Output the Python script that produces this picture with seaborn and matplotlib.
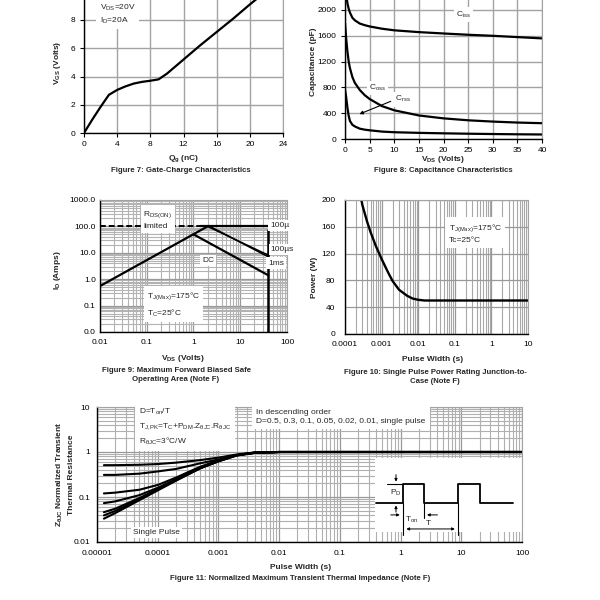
import matplotlib
matplotlib.use("Agg")
import matplotlib.pyplot as plt
from matplotlib.patches import Rectangle
import seaborn as sns

# Figure 7: gate charge
qg = [0, 1, 2, 3, 4, 5, 6, 7, 8, 9, 10, 12, 14, 16, 18, 20, 22]
vgs = [0, 0.95, 1.85, 2.7, 3.05, 3.3, 3.5, 3.62, 3.7, 3.8, 4.2, 5.2, 6.2, 7.15, 8.1, 9.1, 10.05]

# Figure 8: capacitance
vds_cap = [0, 0.25, 0.5, 0.75, 1, 1.5, 2, 3, 4, 5, 7.5, 10, 15, 20, 25, 30, 35, 40]
ciss = [2600, 2250, 2100, 2020, 1960, 1880, 1840, 1790, 1765, 1745, 1710, 1685, 1657, 1636, 1616, 1600, 1580, 1560]
coss = [1800, 1550, 1350, 1200, 1100, 960, 870, 760, 680, 620, 510, 445, 365, 320, 290, 270, 255, 245]
crss = [770, 640, 480, 360, 280, 220, 195, 160, 145, 135, 115, 105, 95, 88, 82, 77, 73, 70]

# Figure 9: safe operating area
ron_v = [0.01, 1.4]
ron_i = [100, 100]
lim10us_v = [1.4, 40]
lim10us_i = [100, 100]
lim100us_v = [2.0, 40]
lim100us_i = [100, 8.1]
lim1ms_v = [2.25, 40]
lim1ms_i = [100, 7.0]
rise_v = [0.01, 2.0]
rise_i = [0.55, 100]
dc_v = [1.0, 40]
dc_i = [50, 1.4]
vmax_v = [40, 40]
vmax_i = [0.01, 70]

# Figure 10: single pulse power
pw = [0.00028, 0.0003, 0.0004, 0.0005, 0.0007, 0.001, 0.0015, 0.002, 0.003, 0.005,
      0.007, 0.01, 0.015, 0.02, 0.05, 0.1, 1, 10]
power = [200, 192, 168, 152, 131, 112, 92, 79, 66, 57, 53, 51, 50, 50, 50, 50, 50, 50]

# Figure 11: transient thermal impedance
zt = [1.3e-5, 2e-5, 5e-5, 1e-4, 2e-4, 5e-4, 1e-3, 2e-3, 4e-3, 1e-2, 0.1, 1, 10, 100]
z_d05 = [0.51, 0.51, 0.52, 0.54, 0.58, 0.66, 0.75, 0.88, 0.98, 1.0, 1.0, 1.0, 1.0, 1.0]
z_d03 = [0.31, 0.31, 0.33, 0.37, 0.42, 0.56, 0.68, 0.86, 0.97, 1.0, 1.0, 1.0, 1.0, 1.0]
z_d01 = [0.12, 0.125, 0.145, 0.185, 0.27, 0.47, 0.65, 0.85, 0.97, 1.0, 1.0, 1.0, 1.0, 1.0]
z_d005 = [0.073, 0.08, 0.11, 0.16, 0.25, 0.45, 0.64, 0.85, 0.97, 1.0, 1.0, 1.0, 1.0, 1.0]
z_d002 = [0.046, 0.055, 0.095, 0.15, 0.24, 0.44, 0.63, 0.84, 0.96, 1.0, 1.0, 1.0, 1.0, 1.0]
z_d001 = [0.039, 0.049, 0.09, 0.145, 0.235, 0.44, 0.62, 0.84, 0.96, 1.0, 1.0, 1.0, 1.0, 1.0]
z_single = [0.033, 0.044, 0.085, 0.14, 0.23, 0.43, 0.62, 0.84, 0.96, 1.0, 1.0, 1.0, 1.0, 1.0]
z_curves = [z_d05, z_d03, z_d01, z_d005, z_d002, z_d001, z_single]

# inset pulse diagram of figure 11
pulse_t = [0.4, 1.1, 1.1, 2.4, 2.4, 8.9, 8.9, 20, 20, 72]
pulse_p = [0.073, 0.073, 0.19, 0.19, 0.073, 0.073, 0.19, 0.19, 0.073, 0.073]

sns.set_theme(style="white")
plt.rcParams['font.family'] = ['Liberation Sans', 'DejaVu Sans']
plt.rcParams['mathtext.default'] = 'regular'

fig = plt.figure(figsize=(6, 6), dpi=100)
fig.patch.set_facecolor('white')

GRID = '#a3a3a3'
TICK_FS = 6
LABEL_FS = 6
CAP_FS = 5.6
WHITE = dict(fc='white', ec='none', pad=1.5)


def px_axes(left, top, right, bottom):
    return fig.add_axes([left / 600, 1 - bottom / 600, (right - left) / 600, (bottom - top) / 600])


def style(ax, ticklen=3):
    ax.set_facecolor('white')
    for s in ax.spines.values():
        s.set_color(GRID)
        s.set_linewidth(0.8)
    for s in ('left', 'bottom'):
        ax.spines[s].set_color('black')
        ax.spines[s].set_linewidth(1.0)
    ax.tick_params(which='major', labelsize=TICK_FS, length=ticklen, width=0.8, pad=3,
                   colors='black', left=True, bottom=True)
    ax.tick_params(which='minor', length=0)
    ax.set_axisbelow(True)


def line(ax, x, y, lw=1.6, ls='-'):
    sns.lineplot(x=x, y=y, ax=ax, color='black', lw=lw, ls=ls, estimator=None, sort=False)


# ---------- Figure 7 ----------
ax7 = px_axes(84, 133 - 10 * 14.125, 283, 133)
style(ax7)
line(ax7, qg, vgs)
ax7.set_xlim(0, 24)
ax7.set_ylim(0, 10)
ax7.set_xticks(range(0, 25, 4))
ax7.set_yticks(range(0, 9, 2))
ax7.grid(True, color=GRID, lw=1.0)
ax7.axhline(10, color=GRID, lw=1.0, zorder=0.5)
ax7.text(1.9, 8.42, "V$_{DS}$=20V\nI$_{D}$=20A", fontsize=TICK_FS, va='center', ha='left',
         linespacing=1.4, bbox=dict(fc='white', ec='none', pad=2.5))
ax7.set_xlabel("Q$_{g}$ (nC)", fontsize=LABEL_FS, fontweight='bold')
ax7.set_ylabel("V$_{GS}$ (Volts)", fontsize=LABEL_FS, fontweight='bold')
ax7.xaxis.set_label_coords(0.5, -0.145)
ax7.yaxis.set_label_coords(-0.105, 0.5)
fig.text(181 / 600, 1 - 171 / 600, "Figure 7: Gate-Charge Characteristics", fontsize=CAP_FS,
         fontweight='bold', ha='center', va='center')

# ---------- Figure 8 ----------
ax8 = px_axes(345, 139 - 6 * 25.8, 542, 139)
style(ax8)
line(ax8, vds_cap, ciss)
line(ax8, vds_cap, coss)
line(ax8, vds_cap, crss)
ax8.set_xlim(0, 40)
ax8.set_ylim(0, 2400)
ax8.set_xticks(range(0, 41, 5))
ax8.set_yticks(range(0, 2001, 400))
ax8.grid(True, color=GRID, lw=1.0)
ax8.text(24, 1930, "C$_{iss}$", fontsize=TICK_FS, ha='center', va='center', bbox=WHITE)
ax8.text(6.6, 790, "C$_{oss}$", fontsize=TICK_FS, ha='center', va='center', bbox=WHITE)
ax8.text(11.8, 615, "C$_{rss}$", fontsize=TICK_FS, ha='center', va='center', bbox=WHITE)
ax8.annotate("", xy=(2.4, 370), xytext=(9.8, 600),
             arrowprops=dict(arrowstyle='-|>', color='black', lw=0.8, mutation_scale=5))
ax8.set_xlabel("V$_{DS}$ (Volts)", fontsize=LABEL_FS, fontweight='bold')
ax8.set_ylabel("Capacitance (pF)", fontsize=LABEL_FS, fontweight='bold')
ax8.xaxis.set_label_coords(0.5, -0.095)
ax8.yaxis.set_label_coords(-0.142, 0.5)
fig.text(443 / 600, 1 - 171 / 600, "Figure 8: Capacitance Characteristics", fontsize=CAP_FS,
         fontweight='bold', ha='center', va='center')

# ---------- Figure 9 ----------
ax9 = px_axes(100, 200, 287, 332)
style(ax9, ticklen=0)
ax9.set_xscale('log')
ax9.set_yscale('log')
ax9.set_xlim(0.01, 100)
ax9.set_ylim(0.01, 1000)
ax9.grid(True, which='major', color='#999999', lw=0.9)
ax9.grid(True, which='minor', color='#b3b3b3', lw=0.8)
line(ax9, ron_v, ron_i, lw=1.4, ls=(0, (3, 1.5)))
line(ax9, lim10us_v, lim10us_i, lw=1.6)
line(ax9, rise_v, rise_i, lw=1.6)
line(ax9, dc_v, dc_i, lw=1.6)
line(ax9, lim100us_v, lim100us_i, lw=1.1)
line(ax9, lim1ms_v, lim1ms_i, lw=1.1)
line(ax9, vmax_v, vmax_i, lw=1.8)
ax9.set_xticks([0.01, 0.1, 1, 10, 100], ["0.01", "0.1", "1", "10", "100"])
ax9.set_yticks([0.01, 0.1, 1, 10, 100, 1000], ["0.0", "0.1", "1.0", "10.0", "100.0", "1000.0"])
ax9.tick_params(axis='x', pad=5)
ax9.text(0.085, 175, "R$_{DS(ON)}$\nlimited", fontsize=TICK_FS, ha='left', va='center',
         linespacing=1.6, bbox=dict(fc='white', ec='none', pad=2))
ax9.text(43, 107, "100µ", fontsize=TICK_FS, ha='left', va='center', bbox=WHITE)
ax9.text(45, 13, "100µs", fontsize=TICK_FS, ha='left', va='center', bbox=WHITE)
ax9.text(40, 4.1, "1ms", fontsize=TICK_FS, ha='left', va='center', bbox=WHITE)
ax9.text(2.05, 5.1, "DC", fontsize=TICK_FS, ha='center', va='center', bbox=WHITE)
ax9.text(0.1, 0.11, "T$_{J(Max)}$=175°C\nT$_{C}$=25°C", fontsize=TICK_FS, ha='left', va='center',
         linespacing=1.7, bbox=dict(fc='white', ec='none', pad=2))
ax9.set_xlabel("V$_{DS}$ (Volts)", fontsize=LABEL_FS, fontweight='bold')
ax9.set_ylabel("I$_{D}$ (Amps)", fontsize=LABEL_FS, fontweight='bold')
ax9.xaxis.set_label_coords(0.445, -0.16)
ax9.yaxis.set_label_coords(-0.198, 0.47)
fig.text(176 / 600, 1 - 375 / 600, "Figure 9: Maximum Forward Biased Safe\nOperating Area (Note F)",
         fontsize=CAP_FS, fontweight='bold', ha='center', va='center', linespacing=1.4)

# ---------- Figure 10 ----------
ax10 = px_axes(345, 200, 528, 334)
style(ax10, ticklen=0)
ax10.set_xscale('log')
ax10.set_xlim(0.0001, 10)
ax10.set_ylim(0, 200)
ax10.grid(True, which='major', axis='both', color='#999999', lw=0.9)
ax10.grid(True, which='minor', axis='x', color='#a8a8a8', lw=0.8)
line(ax10, pw, power, lw=1.7)
ax10.set_xticks([0.0001, 0.001, 0.01, 0.1, 1, 10], ["0.0001", "0.001", "0.01", "0.1", "1", "10"])
ax10.set_yticks(range(0, 201, 40))
ax10.tick_params(axis='x', pad=5)
ax10.tick_params(axis='y', pad=7)
ax10.text(0.068, 150, "T$_{J(Max)}$=175°C\nTc=25°C", fontsize=TICK_FS, ha='left', va='center',
          linespacing=1.6, bbox=dict(fc='white', ec='none', pad=2.5))
ax10.set_xlabel("Pulse Width (s)", fontsize=LABEL_FS, fontweight='bold')
ax10.set_ylabel("Power (W)", fontsize=LABEL_FS, fontweight='bold')
ax10.xaxis.set_label_coords(0.48, -0.164)
ax10.yaxis.set_label_coords(-0.148, 0.42)
fig.text(435 / 600, 1 - 377 / 600, "Figure 10: Single Pulse Power Rating Junction-to-\nCase (Note F)",
         fontsize=CAP_FS, fontweight='bold', ha='center', va='center', linespacing=1.4)

# ---------- Figure 11 ----------
ax11 = px_axes(97, 407, 522, 542)
style(ax11, ticklen=0)
ax11.set_xscale('log')
ax11.set_yscale('log')
ax11.set_xlim(1e-5, 100)
ax11.set_ylim(0.01, 10)
ax11.grid(True, which='major', color='#999999', lw=0.9)
ax11.grid(True, which='minor', color='#b0b0b0', lw=0.8)
for z in z_curves:
    line(ax11, zt, z, lw=1.5)
ax11.set_xticks([1e-5, 1e-4, 1e-3, 0.01, 0.1, 1, 10, 100],
                ["0.00001", "0.0001", "0.001", "0.01", "0.1", "1", "10", "100"])
ax11.set_yticks([0.01, 0.1, 1, 10], ["0.01", "0.1", "1", "10"])
ax11.tick_params(axis='x', pad=6)
ax11.tick_params(axis='y', pad=5)
ax11.text(4.9e-5, 3.6,
          "D=T$_{on}$/T\nT$_{J,PK}$=T$_{C}$+P$_{DM}$.Z$_{θJC}$.R$_{θJC}$\nR$_{θJC}$=3°C/W",
          fontsize=TICK_FS, ha='left', va='center', linespacing=1.55,
          bbox=dict(fc='white', ec='none', pad=3))
ax11.text(0.0042, 6.0, "In descending order\nD=0.5, 0.3, 0.1, 0.05, 0.02, 0.01, single pulse",
          fontsize=TICK_FS, ha='left', va='center', linespacing=1.5,
          bbox=dict(fc='white', ec='none', pad=3))
ax11.text(3.9e-5, 0.016, "Single Pulse", fontsize=TICK_FS, ha='left', va='center', bbox=WHITE)

# inset pulse diagram
ax11.add_patch(Rectangle((0.38, 0.0165), 100 - 0.38, 0.72 - 0.0165, fc='white', ec='none', zorder=1.5))
line(ax11, pulse_t, pulse_p, lw=1.3)
line(ax11, [1.1, 1.1], [0.073, 0.0143], lw=0.8)
line(ax11, [8.9, 8.9], [0.073, 0.0143], lw=0.8)
line(ax11, [2.4, 2.4], [0.073, 0.034], lw=0.8)
line(ax11, [0.6, 1.1], [0.19, 0.19], lw=0.8)
arrow = dict(arrowstyle='-|>', color='black', lw=0.7, mutation_scale=4)
ax11.annotate("", xy=(0.84, 0.19), xytext=(0.84, 0.36), arrowprops=arrow)
ax11.annotate("", xy=(0.84, 0.075), xytext=(0.84, 0.04), arrowprops=arrow)
ax11.annotate("", xy=(1.08, 0.04), xytext=(0.62, 0.04), arrowprops=arrow)
ax11.annotate("", xy=(2.45, 0.04), xytext=(4.5, 0.04), arrowprops=arrow)
ax11.annotate("", xy=(1.12, 0.0195), xytext=(8.7, 0.0195),
              arrowprops=dict(arrowstyle='<|-|>', color='black', lw=0.7, mutation_scale=4))
ax11.text(0.82, 0.122, "P$_{D}$", fontsize=TICK_FS, ha='center', va='center')
ax11.text(1.55, 0.031, "T$_{on}$", fontsize=TICK_FS, ha='center', va='center')
ax11.text(2.85, 0.026, "T", fontsize=TICK_FS, ha='center', va='center')

ax11.set_xlabel("Pulse Width (s)", fontsize=LABEL_FS, fontweight='bold')
ax11.set_ylabel("Z$_{θJC}$ Normalized Transient\nThermal Resistance", fontsize=LABEL_FS,
                fontweight='bold', linespacing=1.5)
ax11.xaxis.set_label_coords(0.48, -0.163)
ax11.yaxis.set_label_coords(-0.052, 0.5)
fig.text(300 / 600, 1 - 578 / 600, "Figure 11: Normalized Maximum Transient Thermal Impedance (Note F)",
         fontsize=CAP_FS, fontweight='bold', ha='center', va='center')

fig.savefig("out.png", dpi=100, facecolor='white')
